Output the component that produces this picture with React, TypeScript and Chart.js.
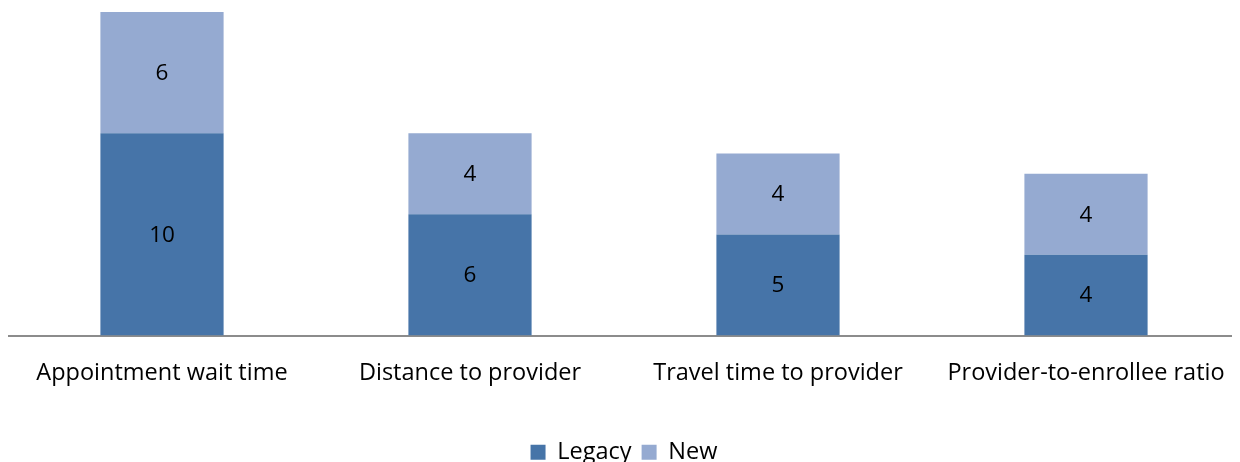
import React, { useEffect, useRef } from "react";
import { Chart, registerables } from "chart.js";

Chart.register(...registerables);

const categories = [
  "Appointment wait time",
  "Distance to provider",
  "Travel time to provider",
  "Provider-to-enrollee ratio",
];
const legacyValues = [10, 6, 5, 4];
const newValues = [6, 4, 4, 4];
const yMax = 16;

const FONT = "'Open Sans', 'Noto Sans', sans-serif";
const FSIZE = 23.5;

const valueLabels = {
  id: "valueLabels",
  afterDatasetsDraw(chart: any) {
    const ctx = chart.ctx;
    ctx.save();
    ctx.fillStyle = "#000";
    ctx.font = `${FSIZE - 1}px ${FONT}`;
    ctx.textAlign = "center";
    ctx.textBaseline = "middle";
    chart.data.datasets.forEach((ds: any, i: number) => {
      const meta = chart.getDatasetMeta(i);
      meta.data.forEach((bar: any, j: number) => {
        const cx = bar.x;
        const cy = (bar.y + bar.base) / 2;
        ctx.fillText(String(ds.data[j]), cx, cy + 1);
      });
    });
    ctx.restore();
  },
};

export default function App() {
  const ref = useRef<HTMLCanvasElement | null>(null);
  useEffect(() => {
    if (!ref.current) return;
    const chart = new Chart(ref.current, {
      type: "bar",
      data: {
        labels: categories,
        datasets: [
          {
            label: "Legacy",
            data: legacyValues,
            backgroundColor: "#4674A8",
            barPercentage: 0.8,
            categoryPercentage: 0.5,
          },
          {
            label: "New",
            data: newValues,
            backgroundColor: "#95AAD1",
            barPercentage: 0.8,
            categoryPercentage: 0.5,
          },
        ],
      },
      options: {
        responsive: false,
        animation: false,
        layout: { padding: { top: 4, left: 0, right: 0, bottom: -12 } },
        scales: {
          x: {
            stacked: true,
            grid: { display: false, drawTicks: false },
            border: { display: true, color: "#8C8C8C", width: 2 },
            ticks: {
              color: "#000",
              font: { family: FONT, size: FSIZE },
              padding: 24,
              maxRotation: 0,
            },
            afterFit(scale: any) {
              scale.height = 95;
              scale.paddingLeft = 0;
              scale.paddingRight = 0;
            },
          },
          y: {
            stacked: true,
            display: false,
            min: 0,
            max: yMax,
          },
        },
        plugins: {
          legend: {
            position: "bottom",
            labels: {
              color: "#000",
              font: { family: FONT, size: FSIZE },
              boxWidth: 15,
              boxHeight: 15,
              padding: 10,
            },
          },
          tooltip: { enabled: false },
        },
      },
      plugins: [valueLabels],
    });
    return () => chart.destroy();
  }, []);
  return (
    <div style={{ width: 1232, height: 454 }}>
      <canvas ref={ref} width={1232} height={454} style={{ display: "block" }} />
    </div>
  );
}
